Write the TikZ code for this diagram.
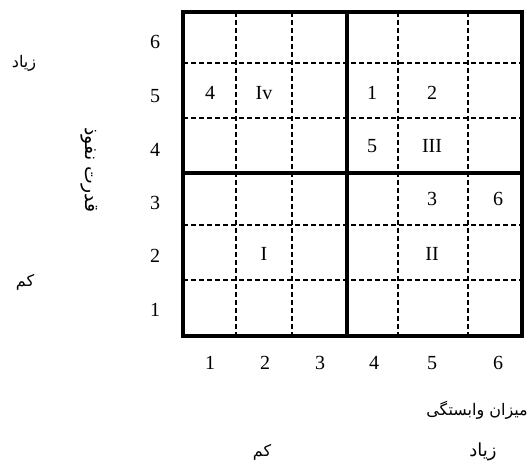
\documentclass[tikz,border=0pt]{standalone}
\usepackage{fontspec}
\setmainfont{Liberation Serif}
\newfontfamily\arabicfont[Script=Arabic]{DejaVu Sans}
\TeXXeTstate=1
\begin{document}
\begin{tikzpicture}[x=1pt,y=-1pt,font=\fontsize{20}{22}\selectfont,
    fa/.style={font=\arabicfont\fontsize{16}{18}\selectfont}]
  \useasboundingbox (0,0) rectangle (530,472);
  \foreach \x in {236,292,398,468}
    \draw[line width=1.2pt,dash pattern=on 5pt off 3pt] (\x,12) -- (\x,336);
  \foreach \y in {63,118,225,280}
    \draw[line width=1.2pt,dash pattern=on 5pt off 3pt] (183,\y) -- (522,\y);
  \draw[line width=4pt] (183,12) rectangle (522,336);
  \draw[line width=4pt] (347,12) -- (347,336);
  \draw[line width=4pt] (183,173) -- (522,173);
  % axis numbers
  \foreach \n/\x in {1/210,2/265,3/320,4/374,5/432,6/498}
    \node (col\n) at (\x,363) {\n};
  \foreach \n/\y in {6/42,5/96,4/150,3/203,2/256,1/310}
    \node (row\n) at (155,\y) {\n};
  % cells
  \node (a) at (210,93) {4};
  \node (iv) at (264,93) {Iv};
  \node (b) at (372,93) {1};
  \node (c) at (432,93) {2};
  \node (d) at (372,146) {5};
  \node (iii) at (432,146) {III};
  \node (e) at (432,199) {3};
  \node (f) at (498,199) {6};
  \node (i) at (264,254) {I};
  \node (ii) at (432,254) {II};
  % persian labels
  \node[fa] (yhigh) at (24,63) {\beginR زیاد\endR};
  \node[fa] (ylow) at (25,282) {\beginR کم\endR};
  \node[fa,font=\arabicfont\fontsize{19}{21}\selectfont,rotate=-90] (ytitle) at (89,170) {\beginR قدرت نفوذ\endR};
  \node[fa,anchor=east,inner sep=0pt] (xtitle) at (528,410) {\beginR میزان وابستگی\endR};
  \node[fa,font=\arabicfont\fontsize{18}{20}\selectfont] (xhigh) at (483,452) {\beginR زیاد\endR};
  \node[fa] (xlow) at (262,452) {\beginR کم\endR};
\end{tikzpicture}
\end{document}
